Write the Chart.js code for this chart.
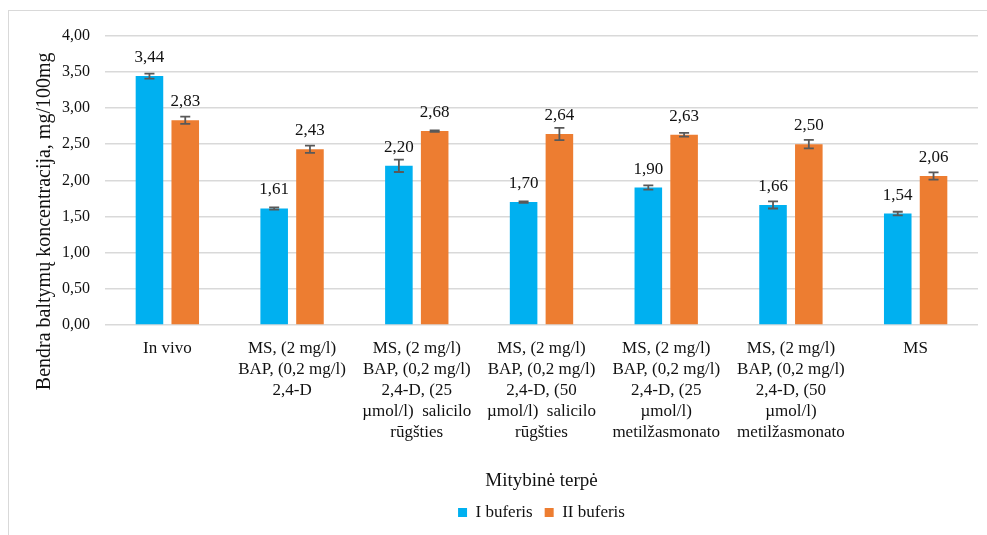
<!DOCTYPE html>
<html>
<head>
<meta charset="utf-8">
<script src="https://cdn.jsdelivr.net/npm/chart.js@4/dist/chart.umd.min.js"></script>
<style>
    body { margin: 0; background: #fff; }
    #frame {
        position: absolute; left: 8px; top: 10px;
        width: 978px; height: 524px;
        border-top: 1px solid #d9d9d9; border-left: 1px solid #d9d9d9;
        background: #fff;
    }
    #myChart { display: block; }
</style>
</head>
<body>
<div id="frame"><canvas id="myChart" width="978" height="524"></canvas></div>
<script>
var categories = [
    "In vivo",
    ["MS, (2 mg/l)", "BAP, (0,2 mg/l)", "2,4-D"],
    ["MS, (2 mg/l)", "BAP, (0,2 mg/l)", "2,4-D, (25", "\u00b5mol/l)  salicilo", "r\u016bg\u0161ties"],
    ["MS, (2 mg/l)", "BAP, (0,2 mg/l)", "2,4-D, (50", "\u00b5mol/l)  salicilo", "r\u016bg\u0161ties"],
    ["MS, (2 mg/l)", "BAP, (0,2 mg/l)", "2,4-D, (25", "\u00b5mol/l)", "metil\u017easmonato"],
    ["MS, (2 mg/l)", "BAP, (0,2 mg/l)", "2,4-D, (50", "\u00b5mol/l)", "metil\u017easmonato"],
    "MS"
];
var buferisI = [3.44, 1.61, 2.20, 1.70, 1.90, 1.66, 1.54];
var buferisII = [2.83, 2.43, 2.68, 2.64, 2.63, 2.50, 2.06];
var errorsI = [0.035, 0.015, 0.085, 0.01, 0.03, 0.05, 0.025];
var errorsII = [0.05, 0.05, 0.01, 0.085, 0.025, 0.06, 0.05];
var yTicks = [0, 0.5, 1, 1.5, 2, 2.5, 3, 3.5, 4];

var serif = "'Liberation Serif', 'Times New Roman', serif";

function formatLt(v) {
    return v.toFixed(2).replace(".", ",");
}

// error bars drawn over the bars using the y scale
var errorBarsPlugin = {
    id: "errorBars",
    afterDatasetsDraw: function (chart) {
        var ctx = chart.ctx;
        var yScale = chart.scales.y;
        ctx.save();
        ctx.strokeStyle = "#595959";
        ctx.lineWidth = 1.8;
        chart.data.datasets.forEach(function (ds, di) {
            var meta = chart.getDatasetMeta(di);
            meta.data.forEach(function (bar, i) {
                var v = ds.data[i];
                var e = ds.errors[i];
                var yTop = yScale.getPixelForValue(v + e);
                var yBot = yScale.getPixelForValue(v - e);
                ctx.beginPath();
                ctx.moveTo(bar.x, yTop);
                ctx.lineTo(bar.x, yBot);
                ctx.moveTo(bar.x - 5, yTop);
                ctx.lineTo(bar.x + 5, yTop);
                ctx.moveTo(bar.x - 5, yBot);
                ctx.lineTo(bar.x + 5, yBot);
                ctx.stroke();
            });
        });
        ctx.restore();
    }
};

// value labels above each bar
var valueLabelsPlugin = {
    id: "valueLabels",
    afterDatasetsDraw: function (chart) {
        var ctx = chart.ctx;
        var yScale = chart.scales.y;
        ctx.save();
        ctx.font = "17px " + serif;
        ctx.fillStyle = "#111";
        ctx.textAlign = "center";
        ctx.textBaseline = "middle";
        chart.data.datasets.forEach(function (ds, di) {
            var meta = chart.getDatasetMeta(di);
            meta.data.forEach(function (bar, i) {
                var y = yScale.getPixelForValue(ds.data[i]) - 18.5;
                ctx.fillText(formatLt(ds.data[i]), bar.x, y);
            });
        });
        ctx.restore();
    }
};

// rotated y axis title, sitting below the axis middle
var yTitlePlugin = {
    id: "yTitle",
    afterDraw: function (chart) {
        var ctx = chart.ctx;
        var area = chart.chartArea;
        ctx.save();
        ctx.translate(chart.scales.y.left + 36, (area.top + area.bottom) / 2 + 41);
        ctx.rotate(-Math.PI / 2);
        ctx.font = "20px " + serif;
        ctx.fillStyle = "#111";
        ctx.textAlign = "center";
        ctx.textBaseline = "middle";
        ctx.fillText("Bendra baltym\u0173 koncentracija, mg/100mg", 0, 0);
        ctx.restore();
    }
};

var ctx = document.getElementById("myChart").getContext("2d");
var myChart = new Chart(ctx, {
    type: "bar",
    data: {
        labels: categories,
        datasets: [{
            label: "I buferis",
            data: buferisI,
            errors: errorsI,
            backgroundColor: "#00B0F0",
            categoryPercentage: 0.574,
            barPercentage: 0.77
        }, {
            label: "II buferis",
            data: buferisII,
            errors: errorsII,
            backgroundColor: "#ED7D31",
            categoryPercentage: 0.574,
            barPercentage: 0.77
        }]
    },
    options: {
        responsive: false,
        animation: false,
        layout: { padding: { top: 23, right: 9, left: 0, bottom: 4 } },
        plugins: {
            tooltip: { enabled: false },
            legend: {
                position: "bottom",
                fullSize: false,
                labels: {
                    font: { family: serif, size: 17 },
                    color: "#111",
                    boxWidth: 9,
                    boxHeight: 9,
                    padding: 12
                }
            }
        },
        scales: {
            x: {
                grid: { display: false },
                border: { display: false },
                ticks: {
                    autoSkip: false,
                    maxRotation: 0,
                    padding: 5,
                    color: "#111",
                    font: { family: serif, size: 17, lineHeight: 1.235 }
                },
                title: {
                    display: true,
                    text: "Mitybin\u0117 terp\u0117",
                    color: "#111",
                    font: { family: serif, size: 19, lineHeight: 1.2 },
                    padding: 0
                },
                afterFit: function (scale) { scale.height = 167; }
            },
            y: {
                min: 0,
                max: 4,
                afterBuildTicks: function (scale) {
                    scale.ticks = yTicks.map(function (v) { return { value: v }; });
                },
                grid: { color: "#d9d9d9", lineWidth: 1.5, drawTicks: false },
                border: { display: false },
                ticks: {
                    padding: 15,
                    color: "#111",
                    font: { family: serif, size: 16 },
                    callback: function (v) { return formatLt(v); }
                },
                afterFit: function (scale) { scale.width = 96; }
            }
        }
    },
    plugins: [errorBarsPlugin, valueLabelsPlugin, yTitlePlugin]
});
</script>
</body>
</html>
